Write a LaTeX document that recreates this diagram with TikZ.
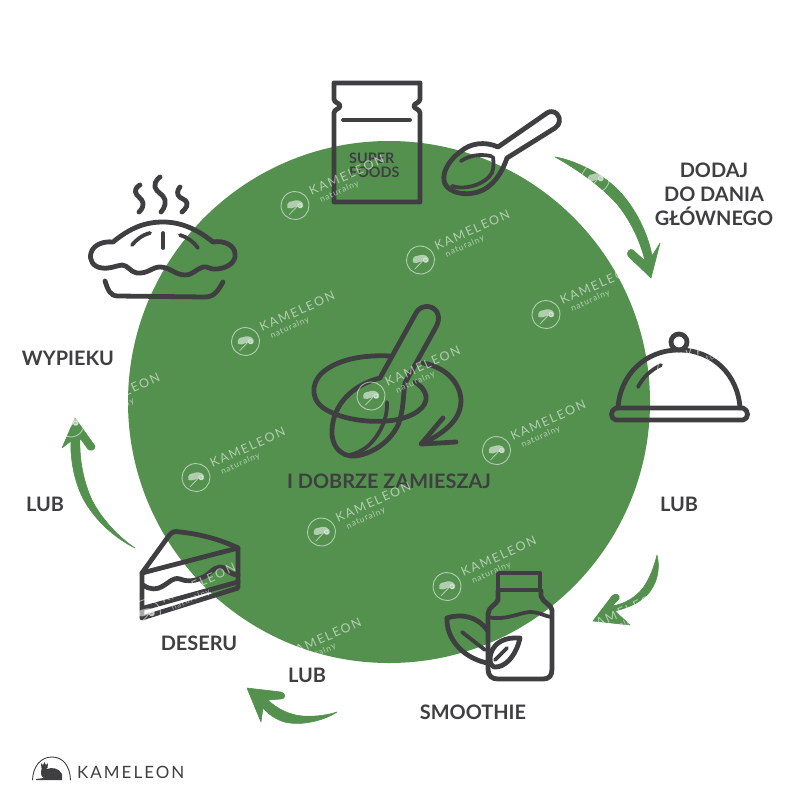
\documentclass[tikz,border=0pt]{standalone}
\usepackage{fontspec}
\setmainfont{Lato}
\definecolor{ink}{HTML}{3F3F41}
\definecolor{leaf}{HTML}{54914F}
\begin{document}
\begin{tikzpicture}[x=1bp,y=-1bp,line join=round,line cap=round,
  icon/.style={draw=ink,line width=4.8bp},
  thinicon/.style={draw=ink,line width=3.8bp},
  lab/.style={text=ink,font=\fontsize{20}{24}\selectfont\bfseries,align=center,inner sep=0pt},
  swoosh/.style={fill=leaf,draw=leaf,line width=.6bp},
  wm/.pic={
    \begin{scope}[rotate=24,transform shape,white,opacity=.55]
      \draw[line width=.9bp] (0,0) circle[radius=14];
      \fill (-8,-1) .. controls (-7,-6) and (-3,-6) .. (-1,-5) .. controls (3,-5) and (8,-3) .. (8,2) .. controls (8,6) and (2,6) .. (2,2) .. controls (0,2) and (-3,1) .. (-5,1) -- cycle;
      \draw[line width=.8bp] (-9,6) -- (1,2);
      \draw[line width=.8bp] (4.5,2) circle[radius=2];
      \node[inner sep=0pt,anchor=base west,font=\fontsize{12.5}{13}\addfontfeatures{LetterSpace=14}] at (19,-2) {KAMELEON};
      \node[inner sep=0pt,anchor=base west,font=\fontsize{8.5}{9}\addfontfeatures{LetterSpace=10}] at (25,8) {naturalny};
    \end{scope}}]
\useasboundingbox (0,0) rectangle (800,800);
\fill[white] (0,0) rectangle (800,800);
\node[circle,fill=leaf,minimum size=522bp,inner sep=0pt] (disc) at (389,402) {};
% ---- curved arrows
\fill[swoosh] (555,157) .. controls (575,160) and (605,175) .. (620,192) .. controls (635,208) and (648,233) .. (652,256) -- (660,243) -- (651,278) -- (628,256) .. controls (626,252) and (630,248) .. (633,250) -- (645,261) .. controls (640,240) and (630,220) .. (617,204) .. controls (600,185) and (575,168) .. cycle;
\fill[swoosh] (657,555) .. controls (661,570) and (656,585) .. (648,594) .. controls (638,604) and (627,608) .. (615,611) -- (630,625) -- (593,621) -- (612,596) .. controls (615,592) and (621,595) .. (619,599) -- (612,606) .. controls (625,604) and (636,597) .. (643,588) .. controls (650,578) and (654,567) .. cycle;
\fill[swoosh] (337,712) .. controls (325,720) and (305,725) .. (290,723) .. controls (280,722) and (270,716) .. (263,708) -- (261,722) -- (247,688) -- (281,692) .. controls (286,693) and (286,699) .. (281,699) -- (268,700) .. controls (277,709) and (290,715) .. (302,716) .. controls (315,717) and (328,715) .. cycle;
\fill[swoosh] (135,548) .. controls (115,538) and (97,522) .. (85,502) .. controls (75,485) and (70,460) .. (71,441) -- (62,448) -- (75,418) -- (95,446) .. controls (95,451) and (90,451) .. (88,449) -- (80,438) .. controls (79,460) and (84,483) .. (92,500) .. controls (102,520) and (120,538) .. cycle;
% ---- bag
\draw[icon] (334,83) -- (420,83) -- (420,99) .. controls (420,103) and (414,103) .. (414,106) .. controls (414,109) and (420,109) .. (420,113) -- (420,202) -- (334,202) -- (334,113) .. controls (334,109) and (340,109) .. (340,106) .. controls (340,103) and (334,103) .. (334,99) -- cycle;
\draw[thinicon] (343,120) -- (410,120);
\node[lab,font=\fontsize{14.5}{14.5}\selectfont\bfseries,align=left,anchor=north west] (super) at (349,152.5) {SUPER\\FOODS};
% ---- scoop
\draw[icon] (498,147) .. controls (485,141) and (470,143) .. (460,152) .. controls (447,162) and (441,175) .. (445,184) .. controls (450,193) and (465,196) .. (478,192) .. controls (492,188) and (502,173) .. (507,158) -- (555,128) .. controls (560,125) and (561,118) .. (557,114) .. controls (554,111) and (550,111) .. (547,113) -- cycle;
\draw[thinicon] (493,157) .. controls (494,165) and (494,172) .. (489,177) .. controls (480,186) and (463,190) .. (452,186);
\draw[thinicon] (491,156) .. controls (480,154) and (470,155) .. (461,161);
% ---- pie
\draw[icon] plot[smooth,tension=.9] coordinates {(140,185) (135.5,192) (143,203) (139,212)};
\draw[icon] plot[smooth,tension=.9] coordinates {(160,177) (155,187) (165,200) (161,212)};
\draw[icon] plot[smooth,tension=.9] coordinates {(180,187) (178,195) (187,203) (182,212)};
\draw[icon] (113,242) .. controls (130,228) and (145,222) .. (163,222) .. controls (182,222) and (198,230) .. (213,242) .. controls (225,240) and (235,246) .. (235,254) .. controls (236,262) and (228,268) .. (217,269) .. controls (210,270) and (208,266) .. (203,267) .. controls (196,269) and (193,275) .. (185,275) .. controls (175,275) and (170,267) .. (160,267) .. controls (152,267) and (148,274) .. (137,273) .. controls (130,272) and (128,265) .. (122,265) .. controls (115,266) and (110,269) .. (102,268) .. controls (93,267) and (89,260) .. (91,253) .. controls (93,245) and (103,241) .. cycle;
\draw[thinicon] (132,245) .. controls (136,240) and (142,235) .. (150,233);
\draw[thinicon] (163,233) -- (163,248);
\draw[thinicon] (180,235) .. controls (187,237) and (194,242) .. (198,248);
\draw[icon] (105,281) .. controls (108,290) and (110,296) .. (118,296) -- (205,297) .. controls (214,297) and (218,291) .. (223,282);
% ---- mixing bowl
\draw[icon] (390,356) .. controls (370,355) and (345,357) .. (327,369) .. controls (312,379) and (309,396) .. (322,407) .. controls (338,419) and (370,424) .. (395,420) .. controls (412,417) and (428,408) .. (426,396) .. controls (425,390) and (420,385) .. (415,382);
\draw[icon] (380,378) -- (416,313) .. controls (420,305) and (432,304) .. (437,312) .. controls (440,318) and (438,323) .. (436,327) -- (405,383) .. controls (403,395) and (404,410) .. (398,425) .. controls (390,442) and (372,454) .. (355,456) .. controls (340,457) and (331,445) .. (332,430) .. controls (333,405) and (352,385) .. (380,378);
\draw[thinicon] (387,402) .. controls (388,420) and (378,437) .. (368,446) .. controls (362,451) and (355,454) .. (349,455);
\draw[icon] (423,363) .. controls (445,367) and (460,382) .. (461,400) .. controls (461,420) and (445,432) .. (424,443);
\draw[icon] (443,418) -- (421,444) -- (456,442);
\node[lab] (mix) at (389,481) {I DOBRZE ZAMIESZAJ};
% ---- cloche
\draw[icon] (679,342) circle[radius=8];
\draw[icon] (618,408) .. controls (620,375) and (645,350) .. (679,350) .. controls (713,350) and (738,375) .. (740,408);
\draw[icon] (616,408) -- (743,408) .. controls (749,410) and (749,419) .. (743,420) -- (616,420) .. controls (610,419) and (610,410) .. (616,408) -- cycle;
\draw[thinicon] (638,387) .. controls (643,377) and (651,370) .. (661,365);
% ---- cake
\draw[icon] (142,573) -- (168,537) .. controls (172,531) and (175,531) .. (180,532) .. controls (200,534) and (222,540) .. (238,548) -- (238,588) -- (142,618) -- cycle;
\draw[icon] (142,573) -- (238,548);
\draw[icon] (143,585) .. controls (150,590) and (157,590) .. (163,586) .. controls (170,582) and (173,577) .. (180,579) .. controls (190,583) and (198,580) .. (207,575) .. controls (213,570) and (217,565) .. (224,568) .. controls (228,572) and (233,575) .. (238,575);
\draw[icon] (144,608) -- (238,582);
% ---- jar and leaves
\draw[icon] (498,573) -- (540,573) -- (540,590) -- (498,590) -- cycle;
\draw[icon] (498,591) -- (498,600) .. controls (497,604) and (488,607) .. (488,614) -- (488,669) .. controls (488,676) and (492,679) .. (498,679) -- (543,679) .. controls (549,679) and (552,676) .. (552,669) -- (552,610) .. controls (552,605) and (542,602) .. (541,596) -- (541,591);
\draw[thinicon] (488,617) .. controls (505,621) and (518,613) .. (530,612) .. controls (540,612) and (546,617) .. (552,617);
\draw[icon] (447,618) .. controls (462,613) and (478,617) .. (487,630);
\draw[icon] (447,618) .. controls (446,636) and (460,657) .. (487,663);
\draw[thinicon] (462,632) -- (485,650);
\draw[icon] (520,638) .. controls (505,637) and (495,642) .. (491,653) .. controls (489,660) and (490,665) .. (494,667) .. controls (505,668) and (516,656) .. (520,638) -- cycle;
\draw[thinicon] (507,648) -- (495,660);
% ---- labels
\node[lab] (main) at (714,194) {DODAJ\\DO DANIA\\GŁÓWNEGO};
\node[lab] (lub1) at (679,504) {LUB};
\node[lab] (smoothie) at (473,712) {SMOOTHIE};
\node[lab] (lub2) at (307,675) {LUB};
\node[lab] (deseru) at (199,643) {DESERU};
\node[lab] (lub3) at (45,504) {LUB};
\node[lab] (wypieku) at (68,358) {WYPIEKU};
% ---- watermarks
\foreach \px/\py in {245.5/341.5,371/396,496.5/450.5,295/205.5,420.5/260,546/314.5,671.5/369,595.5/178.5,70.5/423,196/477.5,321.5/532,447/586.5,572.5/641,146.5/613.5,272/668}
  \pic at (\px,\py) {wm};
% ---- logo
\draw[ink,line width=.9bp] (32.5,780) .. controls (33,766) and (41,757) .. (52,757) .. controls (63,757) and (70,766) .. (70.5,780);
\fill[ink] (41,772) .. controls (41,766) and (45,765) .. (47,769) .. controls (52,767) and (59,768) .. (62,774) -- (62,780) -- (36,780) -- (36,779) -- (44,778) .. controls (41,776) and (41,775) .. (41,772) -- cycle;
\fill[ink] (41.5,768) -- (41,763) -- (43,765) -- (44.5,762) -- (46,765) -- (48,763) -- (47.5,768) -- cycle;
\node[inner sep=0pt,anchor=base west,text=ink,font=\fontsize{17}{20}\addfontfeatures{LetterSpace=12}] (brand) at (77,778) {KAMELEON};
\end{tikzpicture}
\end{document}
